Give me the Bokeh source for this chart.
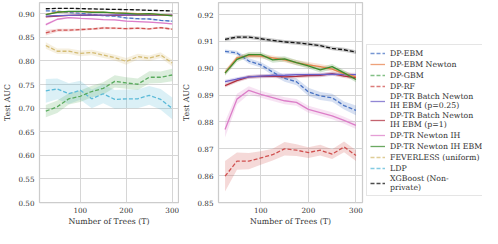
from bokeh.plotting import figure
from bokeh.layouts import row
from bokeh.models import Range1d, FixedTicker, Legend, LegendItem, PrintfTickFormatter
from bokeh.embed import file_html
from bokeh.resources import INLINE

trees = [25, 50, 75, 100, 125, 150, 175, 200, 225, 250, 275, 300]

dp_ebm = [0.9063, 0.9057, 0.9027, 0.9013, 0.8986, 0.8962, 0.8950, 0.8912, 0.8897, 0.8890, 0.8861, 0.8843]
dp_ebm_err = [0.0007, 0.0008, 0.0010, 0.0010, 0.0012, 0.0012, 0.0013, 0.0015, 0.0015, 0.0015, 0.0015, 0.0018]
dp_ebm_newton = [0.8984, 0.9039, 0.9047, 0.9045, 0.9039, 0.9031, 0.9021, 0.9013, 0.9006, 0.8997, 0.8980, 0.8968]
dp_ebm_newton_err = [0.0010, 0.0009, 0.0009, 0.0009, 0.0009, 0.0009, 0.0010, 0.0010, 0.0010, 0.0010, 0.0010, 0.0010]
dp_gbm = [0.6936, 0.7030, 0.7198, 0.7252, 0.7353, 0.7420, 0.7568, 0.7534, 0.7507, 0.7655, 0.7655, 0.7703]
dp_gbm_err = [0.013, 0.013, 0.012, 0.012, 0.012, 0.013, 0.013, 0.012, 0.012, 0.013, 0.012, 0.013]
dp_rf = [0.8598, 0.8654, 0.8654, 0.8666, 0.8678, 0.8700, 0.8695, 0.8686, 0.8695, 0.8680, 0.8707, 0.8675]
dp_rf_err = [0.0057, 0.0032, 0.0030, 0.0025, 0.0022, 0.0025, 0.0022, 0.0020, 0.0020, 0.0018, 0.0020, 0.0020]
batch_p025 = [0.8950, 0.8960, 0.8968, 0.8971, 0.8973, 0.8974, 0.8976, 0.8976, 0.8976, 0.8978, 0.8976, 0.8976]
batch_p025_err = [0.0007, 0.0007, 0.0007, 0.0007, 0.0007, 0.0007, 0.0007, 0.0007, 0.0007, 0.0007, 0.0007, 0.0007]
batch_p1 = [0.8935, 0.8954, 0.8968, 0.8970, 0.8971, 0.8968, 0.8970, 0.8973, 0.8974, 0.8980, 0.8971, 0.8965]
batch_p1_err = [0.0007, 0.0007, 0.0007, 0.0007, 0.0007, 0.0007, 0.0007, 0.0007, 0.0007, 0.0007, 0.0007, 0.0007]
newton_ih = [0.8772, 0.8885, 0.8918, 0.8903, 0.8891, 0.8879, 0.8873, 0.8847, 0.8835, 0.8823, 0.8806, 0.8787]
newton_ih_err = [0.0030, 0.0020, 0.0015, 0.0013, 0.0013, 0.0013, 0.0013, 0.0013, 0.0013, 0.0013, 0.0013, 0.0013]
newton_ih_ebm = [0.8982, 0.9033, 0.9051, 0.9051, 0.9031, 0.9035, 0.9021, 0.9009, 0.8994, 0.9006, 0.8983, 0.8958]
newton_ih_ebm_err = [0.0010, 0.0010, 0.0010, 0.0010, 0.0010, 0.0010, 0.0010, 0.0010, 0.0010, 0.0010, 0.0010, 0.0010]
feverless = [0.8328, 0.8207, 0.8207, 0.8160, 0.8180, 0.8126, 0.8072, 0.7992, 0.8092, 0.8059, 0.8126, 0.7958]
feverless_err = [0.007, 0.006, 0.006, 0.006, 0.006, 0.006, 0.006, 0.007, 0.006, 0.006, 0.006, 0.007]
ldp = [0.7366, 0.7407, 0.7306, 0.7380, 0.7198, 0.7306, 0.7185, 0.7198, 0.7198, 0.7272, 0.7185, 0.6997]
ldp_err = [0.025, 0.022, 0.022, 0.020, 0.020, 0.020, 0.020, 0.020, 0.020, 0.020, 0.022, 0.023]
xgboost = [0.9108, 0.9116, 0.9116, 0.9110, 0.9104, 0.9098, 0.9095, 0.9090, 0.9084, 0.9074, 0.9069, 0.9060]
xgboost_err = [0.0007, 0.0007, 0.0007, 0.0007, 0.0007, 0.0007, 0.0007, 0.0007, 0.0007, 0.0007, 0.0007, 0.0007]

labels = ["DP-EBM", "DP-EBM Newton", "DP-GBM", "DP-RF",
          "DP-TR Batch Newton\nIH EBM (p=0.25)", "DP-TR Batch Newton\nIH EBM (p=1)",
          "DP-TR Newton IH", "DP-TR Newton IH EBM", "FEVERLESS (uniform)", "LDP",
          "XGBoost (Non-\nprivate)"]
values = [dp_ebm, dp_ebm_newton, dp_gbm, dp_rf, batch_p025, batch_p1, newton_ih,
          newton_ih_ebm, feverless, ldp, xgboost]
errors = [dp_ebm_err, dp_ebm_newton_err, dp_gbm_err, dp_rf_err, batch_p025_err, batch_p1_err,
          newton_ih_err, newton_ih_ebm_err, feverless_err, ldp_err, xgboost_err]
colors = ["#4a74c4", "#e8834e", "#5aab5e", "#d0504f", "#6c5fc7", "#b0303f",
          "#dc7ec8", "#3a8c2c", "#d4bc74", "#5bbad8", "#111111"]
dashes = ["4 2", "solid", "4 2", "4 2", "solid", "solid", "solid", "solid", "4 2", "4 2", "4 2"]
# drawing order (back to front)
order = [9, 2, 8, 3, 6, 0, 5, 4, 1, 7, 10]

FONT = "DejaVu Serif"
TXT = "#333333"
GRID = "#d6d6d6"


def style(p, yticks, ylabel):
    p.outline_line_color = "#cccccc"
    p.outline_line_width = 1.25
    p.xaxis.ticker = FixedTicker(ticks=[100, 200, 300])
    p.yaxis.ticker = FixedTicker(ticks=yticks)
    p.yaxis.formatter = PrintfTickFormatter(format="%.2f")
    p.xaxis.axis_label = "Number of Trees (T)"
    p.yaxis.axis_label = ylabel
    for ax in (p.xaxis[0], p.yaxis[0]):
        ax.axis_line_color = None
        ax.major_tick_line_color = None
        ax.minor_tick_line_color = None
        ax.major_tick_out = 0
        ax.major_tick_in = 0
        ax.minor_tick_out = 0
        ax.major_label_text_font = FONT
        ax.major_label_text_font_size = "7.2px"
        ax.major_label_text_color = TXT
        ax.axis_label_text_font = FONT
        ax.axis_label_text_font_size = "7.8px"
        ax.axis_label_text_color = TXT
        ax.axis_label_text_font_style = "normal"
    p.xaxis.major_label_standoff = 4
    p.xaxis.axis_label_standoff = 1
    p.yaxis.major_label_standoff = 5
    p.yaxis.axis_label_standoff = 3
    p.grid.grid_line_color = GRID
    p.grid.grid_line_width = 1
    p.background_fill_color = "white"
    p.border_fill_color = "white"


def draw(p):
    for i in order:
        lo = [v - e for v, e in zip(values[i], errors[i])]
        hi = [v + e for v, e in zip(values[i], errors[i])]
        p.varea(x=trees, y1=lo, y2=hi, fill_color=colors[i], fill_alpha=0.22)
    for i in order:
        p.line(x=trees, y=values[i], line_color=colors[i], line_width=1.3, line_dash=dashes[i])


H = 228
left = figure(width=179, height=H, output_backend="svg", toolbar_location=None,
              x_range=Range1d(11.25, 313.75), y_range=Range1d(0.5, 0.924),
              min_border_left=32, min_border_right=1, min_border_top=2, min_border_bottom=24)
style(left, [0.50, 0.55, 0.60, 0.65, 0.70, 0.75, 0.80, 0.85, 0.90], "Test AUC")
draw(left)

right = figure(width=185, height=H, output_backend="svg", toolbar_location=None,
               x_range=Range1d(11.25, 313.75), y_range=Range1d(0.85, 0.9245),
               min_border_left=36, min_border_right=2, min_border_top=2, min_border_bottom=24)
style(right, [0.85, 0.86, 0.87, 0.88, 0.89, 0.90, 0.91, 0.92], "Test AUC")
draw(right)

# legend panel
leg = figure(width=118, height=H, output_backend="svg", toolbar_location=None,
             x_range=Range1d(0, 1), y_range=Range1d(0, 1),
             min_border_left=1, min_border_right=0, min_border_top=2, min_border_bottom=24,
             x_axis_location=None, y_axis_location=None)
leg.grid.visible = False
leg.outline_line_color = None
leg.background_fill_alpha = 0
leg.border_fill_alpha = 0
items = []
for i in range(len(labels)):
    r = leg.line(x=trees, y=values[i], line_color=colors[i], line_width=1.3,
                 line_dash=dashes[i], line_alpha=0.75)
    items.append(LegendItem(label=labels[i], renderers=[r]))
legend = Legend(items=items, location=(1, 6), margin=0, padding=3, spacing=1,
                glyph_width=15, glyph_height=10, label_height=10, label_standoff=5,
                label_text_font=FONT, label_text_font_size="7.8px", label_text_color=TXT,
                label_text_line_height=1.15,
                border_line_color="#cccccc", border_line_width=1, background_fill_alpha=1)
leg.add_layout(legend)

layout = row(left, right, leg)
open("out.html", "w").write(file_html(layout, INLINE))
